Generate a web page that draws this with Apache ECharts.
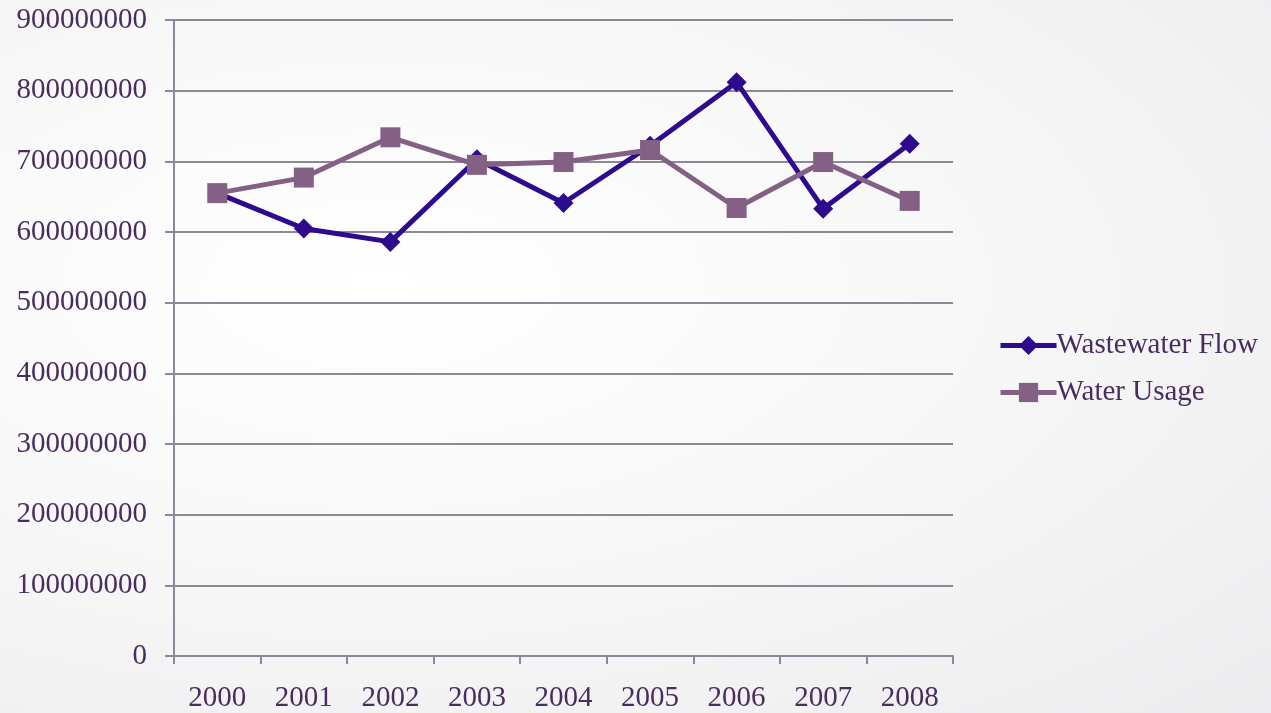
<!DOCTYPE html>
<html>
<head>
<meta charset="utf-8">
<script src="https://cdn.jsdelivr.net/npm/echarts@6/dist/echarts.min.js"></script>
<style>
  html, body { margin: 0; padding: 0; }
  #chart {
    width: 1271px; height: 713px;
    background: radial-gradient(ellipse at 30% 40%, #ffffff 0%, #f6f6f7 55%, #ececee 100%);
  }
</style>
</head>
<body>
<div id="chart"></div>
<script>
// 数据
const years = ['2000', '2001', '2002', '2003', '2004', '2005', '2006', '2007', '2008']
const wastewaterFlow = [655000000, 605000000, 586000000, 703000000, 641000000, 722000000, 812000000, 633000000, 725000000]
const waterUsage = [655000000, 677000000, 734000000, 695000000, 699000000, 716000000, 634000000, 699000000, 644000000]

const textColor = '#4a2d5f'
const gridColor = '#8c8898'
const font = 'Liberation Serif'
const fontSize = 29

const chart = echarts.init(document.getElementById('chart'), null, { renderer: 'canvas' })

chart.setOption({
  backgroundColor: 'transparent',
  animation: false,
  textStyle: { fontFamily: font },
  legend: {
    orient: 'vertical',
    left: 993,
    top: 326,
    itemWidth: 56,
    itemHeight: 24,
    itemGap: 18,
    lineStyle: { width: 5 },
    textStyle: { color: textColor, fontSize: fontSize, fontFamily: font, padding: [0, 0, 0, -5] },
    data: ['Wastewater Flow', 'Water Usage']
  },
  grid: {
    left: 174,
    right: 318,
    top: 20,
    bottom: 56,
    containLabel: false
  },
  xAxis: {
    type: 'category',
    data: years,
    boundaryGap: true,
    axisLine: { lineStyle: { color: gridColor, width: 2 } },
    axisTick: { show: true, length: 8, lineStyle: { color: gridColor, width: 2 } },
    axisLabel: { color: textColor, fontSize: fontSize, fontFamily: font, margin: 28 }
  },
  yAxis: {
    type: 'value',
    min: 0,
    max: 900000000,
    interval: 100000000,
    axisLine: { show: true, lineStyle: { color: gridColor, width: 2 } },
    axisTick: { show: true, length: 9, lineStyle: { color: gridColor, width: 2 } },
    splitLine: { show: true, lineStyle: { color: gridColor, width: 2 } },
    axisLabel: { color: textColor, fontSize: fontSize, fontFamily: font, margin: 27, formatter: v => String(v) }
  },
  series: [
    {
      name: 'Wastewater Flow',
      type: 'line',
      data: wastewaterFlow,
      symbol: 'diamond',
      symbolSize: 20,
      lineStyle: { color: '#2e0a8e', width: 5 },
      itemStyle: { color: '#2e0a8e' }
    },
    {
      name: 'Water Usage',
      type: 'line',
      data: waterUsage,
      symbol: 'rect',
      symbolSize: 20,
      lineStyle: { color: '#856085', width: 5 },
      itemStyle: { color: '#856085' }
    }
  ]
})
</script>
</body>
</html>
